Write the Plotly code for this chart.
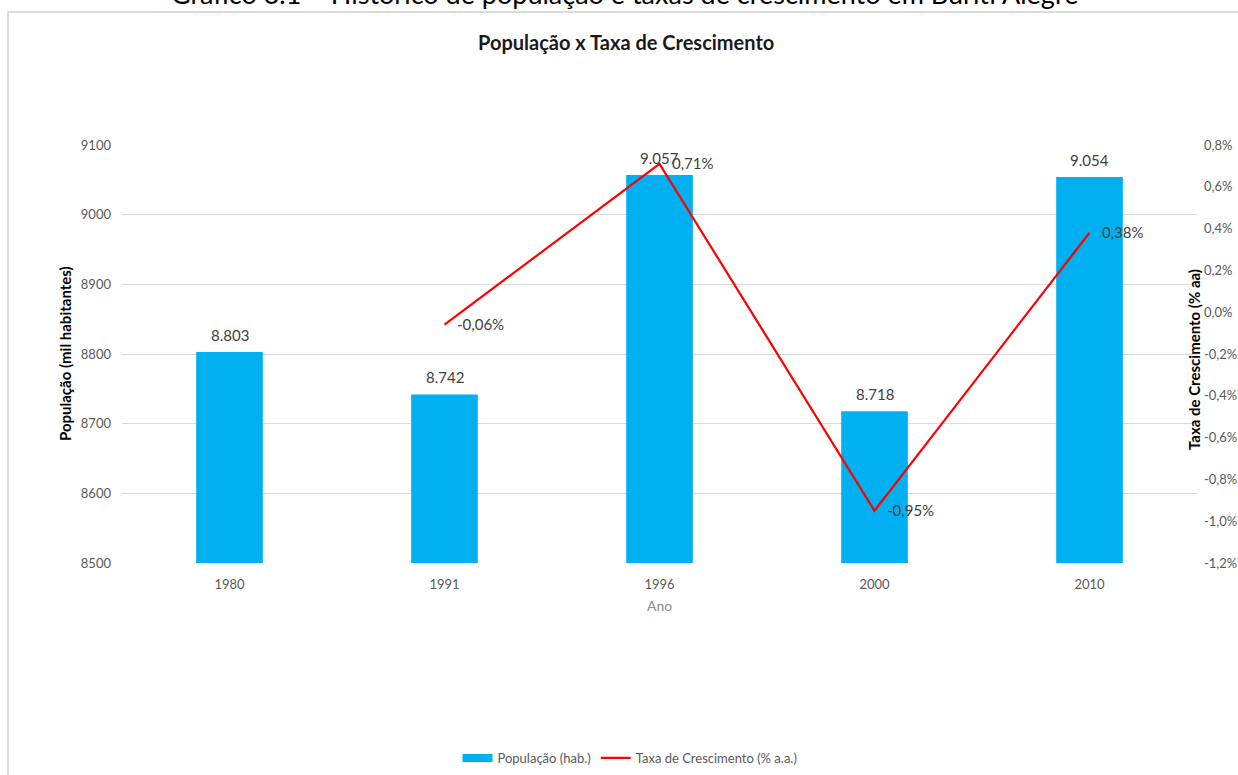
import plotly.graph_objects as go

anos = ["1980", "1991", "1996", "2000", "2010"]
populacao = [8803, 8742, 9057, 8718, 9054]
taxa = [None, -0.06, 0.71, -0.95, 0.38]

left_ticks = [8500, 8600, 8700, 8800, 8900, 9000, 9100]
right_ticks = [-1.2, -1.0, -0.8, -0.6, -0.4, -0.2, 0.0, 0.2, 0.4, 0.6, 0.8]

FONT = "Lato, 'Open Sans', sans-serif"
W, H = 1238, 775
L, R, T, B = 122, 1197, 145, 563
BLUE = "#00b0f0"
RED = "#ff0000"


def px_x(p):
    return (p - L) / (R - L)


def px_y(p):
    return (B - p) / (B - T)


def fmt_pop(v):
    return f"{v:,}".replace(",", ".")


def fmt_pct(v, nd=2):
    return (f"{v:.{nd}f}%").replace(".", ",")


fig = go.Figure()
fig.add_trace(go.Bar(
    x=anos, y=populacao, name="População (hab.)",
    marker=dict(color=BLUE, line=dict(width=0)),
    width=0.31, yaxis="y", showlegend=False,
))
# legend proxy for the bar series (wide rectangle swatch)
fig.add_trace(go.Scatter(
    x=[None], y=[None], name="População (hab.)", mode="lines",
    line=dict(color=BLUE, width=8), yaxis="y",
))
fig.add_trace(go.Scatter(
    x=anos, y=taxa, name="Taxa de Crescimento (% a.a.)",
    mode="lines", line=dict(color=RED, width=2.2),
    yaxis="y2", connectgaps=False,
))

annotations = []
for i, v in enumerate(populacao):
    annotations.append(dict(
        x=i, y=v, xref="x", yref="y", text=fmt_pop(v), showarrow=False,
        xanchor="center", yanchor="bottom", yshift=6,
        font=dict(family=FONT, size=15, color="#404040"),
    ))
for i, v in enumerate(taxa):
    if v is None:
        continue
    annotations.append(dict(
        x=i, y=v, xref="x", yref="y2", text=fmt_pct(v), showarrow=False,
        xanchor="left", yanchor="middle", xshift=10, yshift=1,
        font=dict(family=FONT, size=15, color="#404040"),
    ))

# titles
annotations.append(dict(
    x=px_x(626), y=px_y(42), xref="paper", yref="paper", xanchor="center", yanchor="middle",
    text="<b>População x Taxa de Crescimento</b>", showarrow=False,
    font=dict(family=FONT, size=20, color="#1a1a1a"),
))
annotations.append(dict(
    x=px_x(624), y=px_y(12), xref="paper", yref="paper", xanchor="center", yanchor="bottom",
    text="Gráfico 3.1 – Histórico de população e taxas de crescimento em Buriti Alegre",
    showarrow=False, font=dict(family=FONT, size=27, color="#000000"),
))
annotations.append(dict(
    x=px_x(65), y=px_y(354), xref="paper", yref="paper", textangle=-90,
    xanchor="center", yanchor="middle",
    text="<b>População (mil habitantes)</b>", showarrow=False,
    font=dict(family=FONT, size=15, color="#000000"),
))
annotations.append(dict(
    x=px_x(1194), y=px_y(360), xref="paper", yref="paper", textangle=-90,
    xanchor="center", yanchor="middle",
    text="<b>Taxa de Crescimento (% aa)</b>", showarrow=False,
    font=dict(family=FONT, size=15, color="#000000"),
))
annotations.append(dict(
    x=px_x(659), y=px_y(605), xref="paper", yref="paper", xanchor="center", yanchor="middle",
    text="Ano", showarrow=False,
    font=dict(family=FONT, size=14, color="#8c8c8c"),
))

shapes = [dict(
    type="rect", xref="paper", yref="paper",
    x0=px_x(8), y0=px_y(12), x1=px_x(1250), y1=px_y(790),
    line=dict(color="#d0d0d0", width=1.5), fillcolor="rgba(0,0,0,0)", layer="below",
)]

fig.update_layout(
    width=W, height=H,
    margin=dict(l=L, r=W - R, t=T, b=H - B, autoexpand=False),
    paper_bgcolor="white", plot_bgcolor="white",
    font=dict(family=FONT, size=13, color="#595959"),
    showlegend=True,
    legend=dict(orientation="h", x=px_x(630), xanchor="center", y=px_y(758), yanchor="middle",
                font=dict(family=FONT, size=13, color="#595959")),
    xaxis=dict(type="category", showgrid=False, zeroline=False, showline=False, automargin=False,
               tickfont=dict(family=FONT, size=13, color="#595959"), ticks="", ticklabelstandoff=12),
    yaxis=dict(range=[8500, 9100], tickvals=left_ticks, ticktext=[str(t) for t in left_ticks],
               showgrid=True, gridcolor="#d9d9d9", gridwidth=1, zeroline=False, showline=False,
               ticks="", ticklabelstandoff=10, automargin=False,
               tickfont=dict(family=FONT, size=13, color="#595959")),
    yaxis2=dict(range=[-1.2, 0.8], overlaying="y", side="right",
                tickvals=right_ticks, ticktext=[fmt_pct(t, 1) for t in right_ticks],
                showgrid=False, zeroline=False, showline=False, ticks="", ticklabelstandoff=6,
                automargin=False,
                tickfont=dict(family=FONT, size=13, color="#595959")),
    annotations=annotations,
    shapes=shapes,
)

fig.write_html("out.html")
